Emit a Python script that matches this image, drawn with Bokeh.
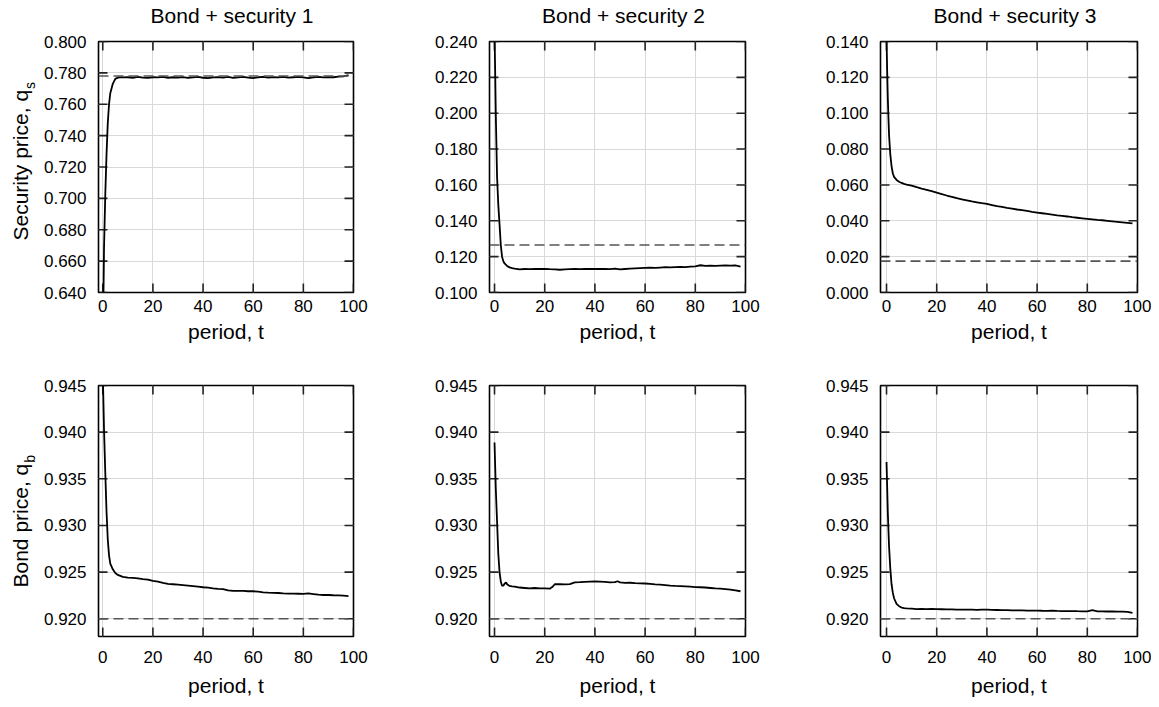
import math
from bokeh.plotting import figure
from bokeh.layouts import column, row
from bokeh.models import Span, Label, FixedTicker, NumeralTickFormatter, Range1d
from bokeh.embed import file_html
from bokeh.resources import INLINE

FONT = "Liberation Sans"

# ---------------- data ----------------
titles = ["Bond + security 1", "Bond + security 2", "Bond + security 3"]
x_label = "period, t"
y_labels = [("Security price, q", "s"), ("Bond price, q", "b")]
x_ticks = [0, 20, 40, 60, 80, 100]
flat_t = [10, 12, 14, 16, 18, 20, 22, 24, 26, 28, 30, 32, 34, 36, 38, 40, 42, 44, 46, 48,
          50, 52, 54, 56, 58, 60, 62, 64, 66, 68, 70, 72, 74, 76, 78, 80, 82, 84, 86, 88,
          90, 92, 94, 96, 98]

# security 1 price
s1_t = [0, 0.5, 1, 1.5, 2, 2.5, 3, 4, 5, 6, 7, 8] + flat_t
s1_q = [0.600, 0.668, 0.702, 0.728, 0.748, 0.760, 0.767, 0.773, 0.7762, 0.7770, 0.7772, 0.7771,
        0.7772, 0.7769, 0.7774, 0.7770, 0.7768, 0.7772, 0.7771, 0.7774, 0.7769, 0.7772,
        0.7770, 0.7773, 0.7768, 0.7771, 0.7774, 0.7769, 0.7767, 0.7771, 0.7773, 0.7770,
        0.7774, 0.7768, 0.7771, 0.7775, 0.7770, 0.7767, 0.7772, 0.7774, 0.7770, 0.7773,
        0.7771, 0.7775, 0.7770, 0.7772, 0.7774, 0.7771, 0.7766, 0.7772, 0.7774, 0.7771,
        0.7773, 0.7772, 0.7776, 0.7778, 0.7786]
s1_ref = 0.7780

# security 2 price
s2_t = [0, 0.25, 0.5, 0.75, 1, 1.5, 2, 2.5, 3, 3.5, 4, 5, 6, 7, 8] + flat_t
s2_q = [0.245, 0.224, 0.200, 0.183, 0.165, 0.149, 0.138, 0.1265, 0.1200, 0.1175, 0.1162,
        0.1148, 0.1140, 0.1136, 0.1133,
        0.1129, 0.1131, 0.1130, 0.1132, 0.1131, 0.1132, 0.1130, 0.1129, 0.1127, 0.1129,
        0.1130, 0.1131, 0.1130, 0.1131, 0.1132, 0.1131, 0.1132, 0.1131, 0.1130, 0.1133,
        0.1129, 0.1131, 0.1133, 0.1135, 0.1136, 0.1137, 0.1138, 0.1137, 0.1139, 0.1141,
        0.1140, 0.1142, 0.1143, 0.1142, 0.1144, 0.1146, 0.1152, 0.1148, 0.1150, 0.1149,
        0.1150, 0.1151, 0.1150, 0.1151, 0.1144]
s2_ref = 0.1265

# security 3 price
s3_t = [0, 0.25, 0.5, 0.75, 1, 1.5, 2, 2.5, 3, 4, 5, 6, 7, 8] + flat_t
s3_q = [0.142, 0.124, 0.109, 0.098, 0.088, 0.077, 0.0705, 0.0665, 0.0645, 0.0628, 0.0618,
        0.0611, 0.0606, 0.0602,
        0.0596, 0.0588, 0.0580, 0.0573, 0.0565, 0.0557, 0.0549, 0.0541, 0.0534, 0.0526,
        0.0520, 0.0514, 0.0508, 0.0503, 0.0498, 0.0494, 0.0488, 0.0482, 0.0477, 0.0472,
        0.0468, 0.0463, 0.0459, 0.0455, 0.0450, 0.0446, 0.0442, 0.0438, 0.0434, 0.0430,
        0.0427, 0.0424, 0.0420, 0.0417, 0.0414, 0.0411, 0.0408, 0.0405, 0.0403, 0.0400,
        0.0397, 0.0394, 0.0391, 0.0388, 0.0385]
s3_ref = 0.0175

# bond price, market 1
b1_t = [0, 0.5, 1, 1.5, 2, 2.5, 3, 4, 5, 6, 7, 8] + flat_t
b1_q = [0.9465, 0.9403, 0.9357, 0.9315, 0.9285, 0.9268, 0.9259, 0.9253, 0.9249, 0.9247,
        0.9246, 0.9245,
        0.92440, 0.92438, 0.92432, 0.92425, 0.92420, 0.92405, 0.92398, 0.92385, 0.92375,
        0.92370, 0.92365, 0.92360, 0.92355, 0.92350, 0.92345, 0.92338, 0.92333, 0.92325,
        0.92320, 0.92318, 0.92305, 0.92300, 0.92298, 0.92298, 0.92295, 0.92295, 0.92290,
        0.92283, 0.92280, 0.92278, 0.92276, 0.92272, 0.92270, 0.92270, 0.92268, 0.92266,
        0.92272, 0.92265, 0.92258, 0.92255, 0.92255, 0.92252, 0.92250, 0.92248, 0.92242]

# bond price, market 2
b2_t = [0, 0.5, 1, 1.5, 2, 2.5, 3, 3.5, 4, 4.6, 5, 6, 7, 8, 10, 12, 14, 16, 18, 20, 22, 23,
        24, 26, 28, 30, 32, 34, 36, 38, 40, 42, 44, 46, 48, 49, 50, 52, 54, 56, 58, 60, 62,
        64, 66, 68, 70, 72, 74, 76, 78, 80, 82, 84, 86, 88, 90, 92, 94, 96, 98]
b2_q = [0.9389, 0.9340, 0.9305, 0.9270, 0.9250, 0.9240, 0.92355, 0.92355, 0.92375, 0.92390,
        0.92370, 0.92352, 0.92348, 0.92345, 0.92335, 0.92330, 0.92325, 0.92330, 0.92325,
        0.92325, 0.92322, 0.92340, 0.92370, 0.92372, 0.92368, 0.92372, 0.92390, 0.92392,
        0.92395, 0.92398, 0.92400, 0.92398, 0.92395, 0.92390, 0.92392, 0.92402, 0.92390,
        0.92385, 0.92386, 0.92382, 0.92380, 0.92378, 0.92375, 0.92368, 0.92365, 0.92360,
        0.92355, 0.92352, 0.92350, 0.92348, 0.92345, 0.92340, 0.92338, 0.92335, 0.92330,
        0.92325, 0.92322, 0.92318, 0.92312, 0.92305, 0.92295]

# bond price, market 3
b3_t = [0, 0.5, 1, 1.5, 2, 2.5, 3, 4, 5, 6, 7, 8] + flat_t
b3_q = [0.9368, 0.9315, 0.9278, 0.9254, 0.9237, 0.9228, 0.9222, 0.9216, 0.92135, 0.92120,
        0.92115, 0.92112,
        0.92108, 0.92104, 0.92106, 0.92104, 0.92107, 0.92104, 0.92102, 0.92100, 0.92101,
        0.92098, 0.92099, 0.92097, 0.92098, 0.92096, 0.92098, 0.92097, 0.92095, 0.92094,
        0.92092, 0.92093, 0.92090, 0.92089, 0.92090, 0.92088, 0.92087, 0.92088, 0.92086,
        0.92085, 0.92087, 0.92084, 0.92083, 0.92082, 0.92083, 0.92081, 0.92080, 0.92080,
        0.92092, 0.92080, 0.92079, 0.92078, 0.92079, 0.92077, 0.92076, 0.92074, 0.92062]
bond_ref = 0.9200

sec_yticks = [
    [0.64, 0.66, 0.68, 0.70, 0.72, 0.74, 0.76, 0.78, 0.80],
    [0.10, 0.12, 0.14, 0.16, 0.18, 0.20, 0.22, 0.24],
    [0.00, 0.02, 0.04, 0.06, 0.08, 0.10, 0.12, 0.14],
]
sec_yrange = [(0.64, 0.80), (0.10, 0.24), (0.00, 0.14)]
bond_yticks = [0.920, 0.925, 0.930, 0.935, 0.940, 0.945]
bond_yrange = (0.9181, 0.945)

# ---------------- layout constants (pixels) ----------------
TOTAL_W = 1151
HEADER_H = 30
LABEL_W = 40
FRAME_H = 251
frame_w = [255, 256, 257]
x_start = [-1.7, -2.0, -2.4]
border_l = [58, 116, 115]
border_r = [20, 20, 14]
row_borders = [(11, 80), (13, 66)]        # (top, bottom)
tick_standoff = [7, 14]                    # x tick labels below the frame, per row
xlabel_standoff = [5, 8]

GRID = "#d9d9d9"
TICK = "#222222"
TICK_LEN = 9
BASE_SHIFT = 7.0      # renderer offset of the text baseline for a 21px font
ROT_SHIFT = 11.0      # extra along-text correction for the rotated labels


def blank_fig(w, h):
    f = figure(frame_width=w, frame_height=h, min_border=0,
               x_range=Range1d(0, 1), y_range=Range1d(0, 1),
               x_axis_type=None, y_axis_type=None,
               output_backend="svg", toolbar_location=None, tools="")
    f.outline_line_color = None
    f.background_fill_color = "white"
    f.border_fill_color = "white"
    return f


def make_panel(col, rw, t, q, ref, yr, yticks):
    top, bottom = row_borders[rw]
    p = figure(frame_width=frame_w[col], frame_height=FRAME_H,
               min_border_left=border_l[col], min_border_right=border_r[col],
               min_border_top=top, min_border_bottom=bottom,
               x_range=Range1d(x_start[col], 100), y_range=Range1d(*yr),
               output_backend="svg", toolbar_location=None, tools="")
    p.background_fill_color = "white"
    p.border_fill_color = "white"
    p.outline_line_color = "black"
    p.outline_line_width = 1.6
    p.outline_line_alpha = 1.0

    xt = FixedTicker(ticks=x_ticks)
    yt = FixedTicker(ticks=yticks)
    p.xaxis.ticker = xt
    p.yaxis.ticker = yt
    p.yaxis.formatter = NumeralTickFormatter(format="0.000")
    p.xaxis.major_label_standoff = tick_standoff[rw]
    p.yaxis.major_label_standoff = 12
    for ax in list(p.xaxis) + list(p.yaxis):
        ax.axis_line_color = None
        ax.major_tick_in = 0
        ax.major_tick_out = 0
        ax.major_tick_line_color = None
        ax.minor_tick_line_color = None
        ax.major_label_text_font = FONT
        ax.major_label_text_font_size = "17px"
        ax.major_label_text_color = "black"
    p.xaxis.axis_label = x_label
    p.xaxis.axis_label_text_font = FONT
    p.xaxis.axis_label_text_font_size = "21px"
    p.xaxis.axis_label_text_font_style = "normal"
    p.xaxis.axis_label_text_color = "black"
    p.xaxis.axis_label_standoff = xlabel_standoff[rw]

    p.xgrid.ticker = xt
    p.ygrid.ticker = yt
    p.grid.grid_line_color = GRID
    p.grid.grid_line_width = 1

    # inward ticks on all four sides (gnuplot style mirror ticks)
    ny, nx = len(yticks), len(x_ticks)
    tick_kw = dict(length=TICK_LEN, length_units="screen", line_color=TICK, line_width=1.6)
    p.ray(x=[x_start[col]] * ny, y=yticks, angle=0, **tick_kw)
    p.ray(x=[100] * ny, y=yticks, angle=math.pi, **tick_kw)
    p.ray(x=x_ticks, y=[yr[0]] * nx, angle=math.pi / 2, **tick_kw)
    p.ray(x=x_ticks, y=[yr[1]] * nx, angle=-math.pi / 2, **tick_kw)

    p.add_layout(Span(location=ref, dimension="width", line_color="#555555",
                      line_width=1.7, line_dash="10 5"))
    p.line(t, q, line_color="black", line_width=1.8)
    return p


# header strip with the column titles (baseline 22.7px below the page top)
header = blank_fig(TOTAL_W, HEADER_H)
xpos = LABEL_W
for i in range(3):
    frame_left = xpos + border_l[i]
    header.add_layout(Label(x=frame_left + frame_w[i] / 2 + 6,
                            y=HEADER_H - 22.7 + BASE_SHIFT + 1,
                            x_units="screen", y_units="screen", text=titles[i],
                            text_align="center", text_baseline="alphabetic",
                            text_font=FONT, text_font_size="21px", text_color="black"))
    xpos += border_l[i] + frame_w[i] + border_r[i]

# left strips with the rotated y-axis labels (main text + subscript)
# (page y where the label starts, page y of the strip bottom, text width)
label_geom = [(240.0, 372.0, 150.5), (585.0, 702.0, 123.7)]
label_figs = []
for rw in range(2):
    h = row_borders[rw][0] + FRAME_H + row_borders[rw][1]
    f = blank_fig(LABEL_W, h)
    start, strip_bottom, width = label_geom[rw]
    main, sub = y_labels[rw]
    y0 = strip_bottom - start + ROT_SHIFT
    f.add_layout(Label(x=26.5 - BASE_SHIFT, y=y0,
                       x_units="screen", y_units="screen",
                       text=main, angle=math.pi / 2, text_align="left",
                       text_baseline="alphabetic", text_font=FONT,
                       text_font_size="21px", text_color="black"))
    f.add_layout(Label(x=34.5 - BASE_SHIFT * 14 / 21, y=y0 + width + 1,
                       x_units="screen", y_units="screen",
                       text=sub, angle=math.pi / 2, text_align="left",
                       text_baseline="alphabetic", text_font=FONT,
                       text_font_size="14px", text_color="black"))
    label_figs.append(f)

sec_t = [s1_t, s2_t, s3_t]
sec_q = [s1_q, s2_q, s3_q]
sec_ref = [s1_ref, s2_ref, s3_ref]
bond_t = [b1_t, b2_t, b3_t]
bond_q = [b1_q, b2_q, b3_q]

top_row = [label_figs[0]]
bot_row = [label_figs[1]]
for i in range(3):
    top_row.append(make_panel(i, 0, sec_t[i], sec_q[i], sec_ref[i], sec_yrange[i],
                              sec_yticks[i]))
    bot_row.append(make_panel(i, 1, bond_t[i], bond_q[i], bond_ref, bond_yrange,
                              bond_yticks))

layout = column(header, row(*top_row), row(*bot_row))
open("out.html", "w").write(file_html(layout, INLINE))
